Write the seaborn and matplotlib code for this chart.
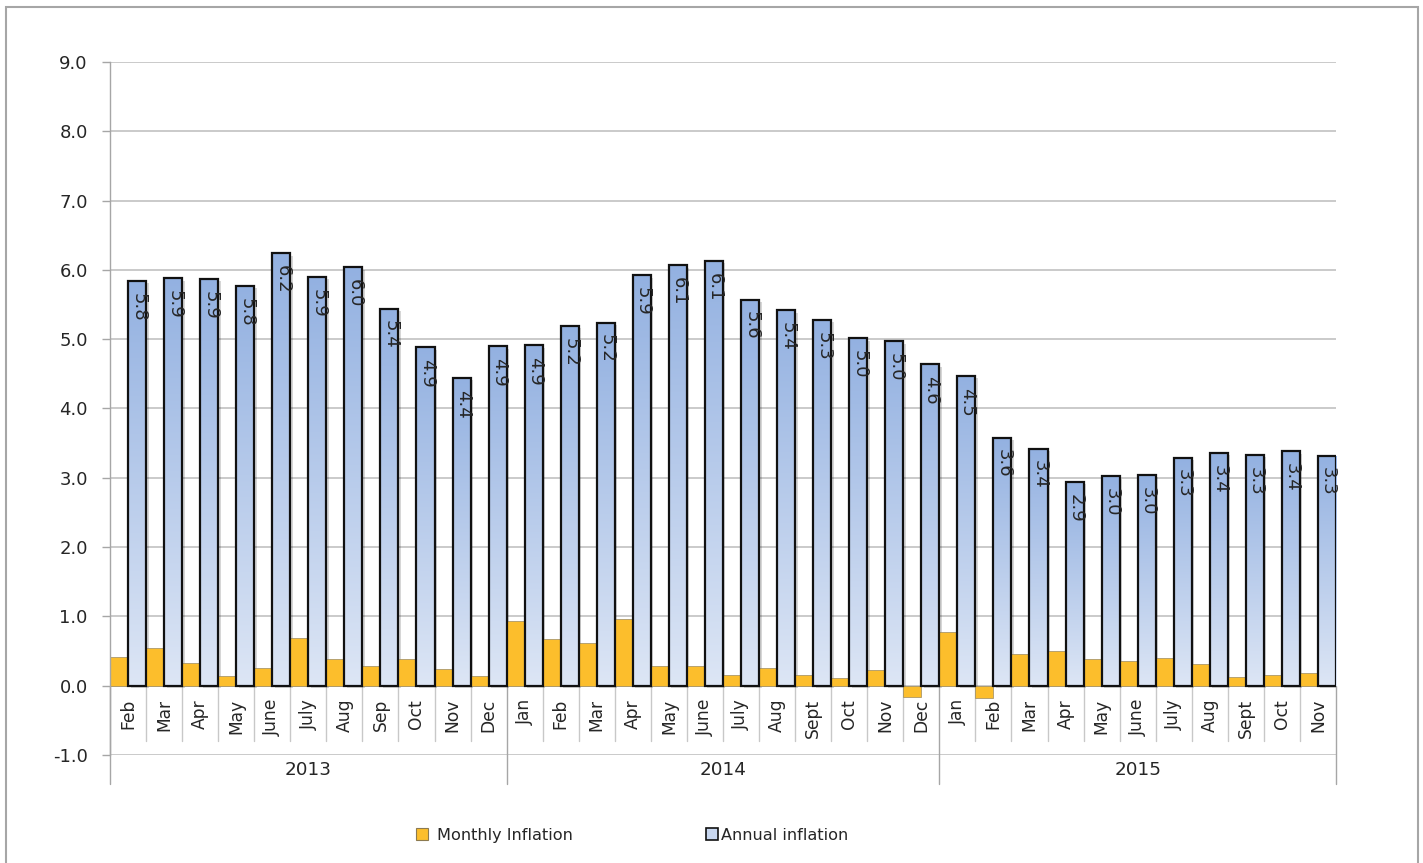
import numpy as np
import pandas as pd
import matplotlib
matplotlib.use("Agg")
import matplotlib.pyplot as plt
import matplotlib.transforms as mtransforms
from matplotlib.patches import Rectangle, Patch
from matplotlib.colors import LinearSegmentedColormap
import seaborn as sns

# ---- data -----------------------------------------------------------------
years = ["2013", "2014", "2015"]
months_2013 = ["Feb", "Mar", "Apr", "May", "June", "July", "Aug", "Sep", "Oct", "Nov", "Dec"]
months_2014 = ["Jan", "Feb", "Mar", "Apr", "May", "June", "July", "Aug", "Sept", "Oct", "Nov", "Dec"]
months_2015 = ["Jan", "Feb", "Mar", "Apr", "May", "June", "July", "Aug", "Sept", "Oct", "Nov"]

monthly_2013 = [0.41, 0.55, 0.33, 0.14, 0.25, 0.69, 0.39, 0.28, 0.39, 0.24, 0.14]
monthly_2014 = [0.93, 0.67, 0.62, 0.96, 0.29, 0.29, 0.16, 0.25, 0.16, 0.11, 0.22, -0.17]
monthly_2015 = [0.77, -0.18, 0.45, 0.50, 0.38, 0.35, 0.40, 0.31, 0.13, 0.16, 0.18]

annual_2013 = [5.84, 5.88, 5.87, 5.77, 6.24, 5.90, 6.04, 5.44, 4.88, 4.44, 4.90]
annual_2014 = [4.91, 5.19, 5.24, 5.92, 6.07, 6.13, 5.57, 5.42, 5.28, 5.01, 4.97, 4.64]
annual_2015 = [4.47, 3.58, 3.42, 2.94, 3.02, 3.04, 3.29, 3.36, 3.33, 3.38, 3.32]

series_names = ["Monthly Inflation", "Annual inflation"]
y_ticks = [-1.0, 0.0, 1.0, 2.0, 3.0, 4.0, 5.0, 6.0, 7.0, 8.0, 9.0]

# ---- styling --------------------------------------------------------------
ORANGE = "#FCBE2C"
BLUE_LEGEND = "#C8D7F0"
GRID = "#C6C6C6"
AXIS_GREY = "#A6A6A6"
TEXT = "#262626"

sns.set_theme(style="white")
plt.rcParams["font.family"] = ["DejaVu Sans"]

month_groups = [months_2013, months_2014, months_2015]
monthly_groups = [monthly_2013, monthly_2014, monthly_2015]
annual_groups = [annual_2013, annual_2014, annual_2015]

rows = []
keys = []
month_labels = []
for yr, months, mon_vals, ann_vals in zip(years, month_groups, monthly_groups, annual_groups):
    for m, mv, av in zip(months, mon_vals, ann_vals):
        key = f"{yr}-{m}"
        keys.append(key)
        month_labels.append(m)
        rows.append({"period": key, "series": series_names[0], "value": mv})
        rows.append({"period": key, "series": series_names[1], "value": av})
df = pd.DataFrame(rows)

fig = plt.figure(figsize=(14.23, 8.63), dpi=100)
ax = fig.add_axes([0.0773, 0.12526, 0.86156, 0.80290])

sns.barplot(
    data=df, x="period", y="value", hue="series",
    order=keys, hue_order=series_names,
    palette={series_names[0]: ORANGE, series_names[1]: BLUE_LEGEND},
    width=1.0, gap=0, saturation=1, errorbar=None, legend=False, ax=ax,
)

monthly_bars = ax.containers[0]
annual_bars = ax.containers[1]

for bar in monthly_bars:
    bar.set_edgecolor("#9A8A60")
    bar.set_linewidth(0.5)

# vertical gradient for the annual bars, plus a soft drop shadow
grad_cmap = LinearSegmentedColormap.from_list("annual", ["#DDE6F5", "#93B1E1"])
grad = np.linspace(0, 1, 256).reshape(-1, 1)
shadow_tf = mtransforms.offset_copy(ax.transData, fig=fig, x=2.5, y=-2.5, units="dots")
for bar in annual_bars:
    x0, y0 = bar.get_x(), bar.get_y()
    w, h = bar.get_width(), bar.get_height()
    ax.add_patch(Rectangle((x0, y0), w, h, transform=shadow_tf,
                           facecolor=(0, 0, 0, 0.16), edgecolor="none", zorder=0.9))
    im = ax.imshow(grad, extent=(x0, x0 + w, y0, y0 + h), origin="lower",
                   cmap=grad_cmap, aspect="auto", zorder=0.95, interpolation="bilinear")
    im.set_clip_path(bar)
    bar.set_facecolor("none")
    bar.set_edgecolor("#111111")
    bar.set_linewidth(1.6)
    bar.set_zorder(1.0)
    ax.annotate(f"{h:.1f}", xy=(x0 + w / 2, h), xytext=(0.8, -8.5),
                textcoords="offset points", rotation=270, ha="center", va="top",
                fontsize=13, color=TEXT, zorder=3)

# ---- axes -----------------------------------------------------------------
n = len(keys)
ax.set_xlim(-0.5, n - 0.5)
ax.set_ylim(-1.0, 9.0)
ax.set_yticks(y_ticks)
ax.set_yticklabels([f"{t:.1f}" for t in y_ticks], fontsize=13, color=TEXT)
ax.set_xticks([])
ax.set_xlabel("")
ax.set_ylabel("")
ax.yaxis.grid(True, color=GRID, linewidth=1.3)
ax.set_axisbelow(True)
ax.tick_params(axis="y", left=True, length=6, width=1.0, color=AXIS_GREY, pad=10)
for side in ["top", "right", "bottom"]:
    ax.spines[side].set_visible(False)
ax.spines["left"].set_color(AXIS_GREY)
ax.spines["left"].set_linewidth(1.0)

# month labels along the zero line
for i, m in enumerate(month_labels):
    ax.annotate(m, xy=(i, 0), xytext=(0, -9.5), textcoords="offset points",
                rotation=90, ha="center", va="top", fontsize=12.3, color=TEXT,
                annotation_clip=False)

# separators between months and between years
bounds = np.cumsum([0] + [len(g) for g in month_groups]) - 0.5
for b in np.arange(-0.5, n, 1.0):
    is_year = np.any(np.isclose(b, bounds))
    ax.plot([b, b], [0, -1.42 if is_year else -0.80], color=AXIS_GREY if is_year else "#C8C8C8",
            linewidth=1.0, clip_on=False, zorder=0.6)

for yr, lo, hi in zip(years, bounds[:-1], bounds[1:]):
    ax.text((lo + hi) / 2, -1.22, yr, ha="center", va="center",
            fontsize=13.2, color=TEXT, clip_on=False)

# ---- legend (two entries placed independently along the bottom) -----------
legend_kw = dict(loc="center left", frameon=False, fontsize=11.6, handlelength=0.75,
                 handleheight=0.75, borderpad=0, borderaxespad=0, labelcolor=TEXT)
fig.legend([Patch(facecolor=ORANGE, edgecolor="#8C7A50", linewidth=0.8)], [series_names[0]],
           bbox_to_anchor=(416 / 1423, 0.0324), handletextpad=0.56, **legend_kw)
fig.legend([Patch(facecolor=BLUE_LEGEND, edgecolor="#111111", linewidth=1.2)], [series_names[1]],
           bbox_to_anchor=(706 / 1423, 0.0324), handletextpad=0.2, **legend_kw)

# outer chart frame
fig.add_artist(Rectangle((6 / 1423, -0.02), (1418 - 6) / 1423, 1 - 7 / 863 + 0.02,
                         transform=fig.transFigure, fill=False,
                         edgecolor=AXIS_GREY, linewidth=1.5))

fig.savefig("out.png", dpi=100)
